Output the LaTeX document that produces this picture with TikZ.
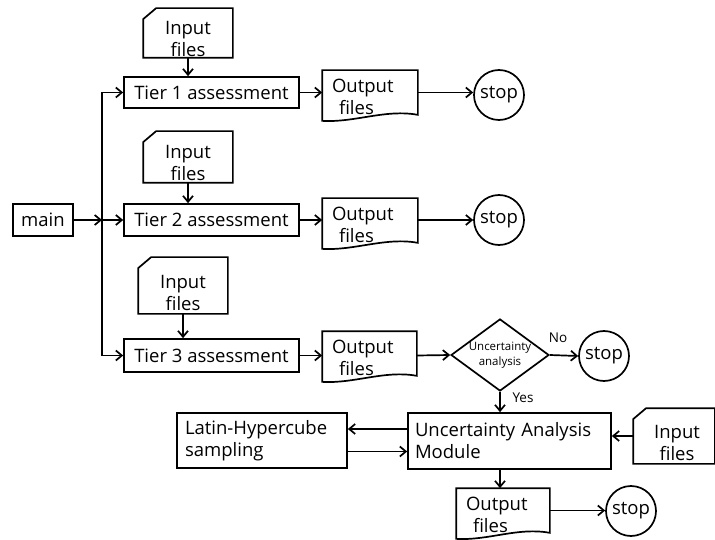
\documentclass[tikz,border=0pt]{standalone}
\usepackage{fontspec}
\setmainfont{Open Sans}
\usetikzlibrary{arrows.meta,shapes.geometric,calc}
\begin{document}
\begin{tikzpicture}[x=1pt,y=-1pt,
  font=\fontsize{18.5}{22}\selectfont,
  line width=1.7pt,
  arr/.style={-{Straight Barb[length=6pt,width=10pt]}},
  boxn/.style={draw,rectangle,inner sep=0pt},
  ghost/.style={rectangle,inner sep=0pt},
  txt/.style={inner sep=0pt,align=center},
  stopn/.style={draw,circle,minimum size=50pt,inner sep=0pt},
  lbl/.style={inner sep=0pt,font=\fontsize{13.5}{16}\selectfont}]
\useasboundingbox (0,0) rectangle (715,540);

% main and tiers
\node[boxn,minimum width=60pt,minimum height=32pt] (main) at (43,220) {main};
\node[boxn,minimum width=175pt,minimum height=31pt] (t1) at (211.5,92.5) {Tier 1 assessment};
\node[boxn,minimum width=175pt,minimum height=32pt] (t2) at (211.5,220) {Tier 2 assessment};
\node[boxn,minimum width=175pt,minimum height=33pt] (t3) at (211.5,355.5) {Tier 3 assessment};
\coordinate (j) at (102,220);

% input files
\node[ghost,minimum width=88pt,minimum height=48pt] (in1) at (188,33) {};
\node[ghost,minimum width=88pt,minimum height=50pt] (in2) at (188,157) {};
\node[ghost,minimum width=88pt,minimum height=55pt] (in3) at (183,285.5) {};
\node[ghost,minimum width=80pt,minimum height=54pt] (in4) at (674,436) {};
\foreach \n in {in1,in2,in3,in4}{
  \draw (\n.north east) -- (\n.south east) -- (\n.south west) -- ($(\n.north west)+(0,11)$) -- ($(\n.north west)+(13,0)$) -- cycle;
}
\node[txt] (in1t) at ($(in1)+(0,6)$) {Input\\files};
\node[txt] (in2t) at ($(in2)+(0,6)$) {Input\\files};
\node[txt] (in3t) at ($(in3)+(0,7)$) {Input\\files};
\node[txt] (in4t) at ($(in4)+(3,7)$) {Input\\files};

% output files
\node[ghost,minimum width=94pt,minimum height=43pt] (out1) at (370,92.5) {};
\node[ghost,minimum width=94pt,minimum height=43pt] (out2) at (370,220.5) {};
\node[ghost,minimum width=93pt,minimum height=43pt] (out3) at (369.5,353.5) {};
\node[ghost,minimum width=92pt,minimum height=43pt] (out4) at (503,510.5) {};
\foreach \n in {out1,out2,out3,out4}{
  \draw (\n.north west) -- (\n.north east) -- (\n.south east) .. controls ($(\n.south east)+(-32,-6)$) and ($(\n.south west)+(32,8)$) .. ($(\n.south west)+(0,6)$) -- cycle;
}
\foreach \n in {out1,out2,out3,out4}{
  \node[txt,align=left,anchor=west] (\n t) at ($(\n.west)+(9,4)$) {Output\\\rule{7pt}{0pt}files};
}

% stops
\node[stopn] (s1) at (499,95) {stop};
\node[stopn] (s2) at (499,220) {stop};
\node[stopn] (s3) at (604,356) {stop};
\node[stopn] (s4) at (631,511) {stop};

% decision
\node[draw,diamond,minimum width=91pt,minimum height=67pt,inner sep=0pt,aspect=1.36,
      align=center,font=\fontsize{11.5}{15}\selectfont] (dia) at (500,355) {Uncertainty\\analysis};

% UAM and LHS
\node[boxn,minimum width=203pt,minimum height=56pt,align=left,text width=189pt] (uam) at (509.5,441) {Uncertainty Analysis\\Module};
\node[boxn,minimum width=170pt,minimum height=55pt,align=left,text width=154pt] (lhs) at (262,440.5) {Latin-Hypercube\\sampling};

% connectors
\draw[arr] (main) -- (j);
\draw[arr] (j) -- (t2);
\draw[arr] (j) |- (t1);
\draw[arr] (j) |- (t3);
\draw[arr] (in1.south) -- (t1.north -| in1.south);
\draw[arr] (in2.south) -- (t2.north -| in2.south);
\draw[arr] (in3.south) -- (t3.north -| in3.south);
\draw[arr] (t1.east) -- (t1.east -| out1.west);
\draw[arr] (t2.east) -- (t2.east -| out2.west);
\draw[arr] (t3.east) -- (t3.east -| out3.west);
\draw[arr] (out1.east |- t1.east) -- (s1.west |- t1.east);
\draw[arr] (out2.east |- t2.east) -- (s2.west |- t2.east);
\draw[arr] (out3.east |- t3.east) -- (dia.west);
\draw[arr] (dia.east) -- (s3.west);
\draw[arr] (dia.south) -- (dia.south |- uam.north);
\draw[arr] (in4.west) -- (in4.west -| uam.east);
\draw[arr] ([yshift=12pt]uam.west) -- ([yshift=12pt]uam.west -| lhs.east);
\draw[arr] ([yshift=-11pt]lhs.east) -- ([yshift=-11pt]lhs.east -| uam.west);
\draw[arr] (uam.south -| dia.south) -- (out4.north -| dia.south);
\draw[arr] (out4.east) -- (s4.west |- out4.east);

% labels
\node[lbl] (no) at (558,338) {No};
\node[lbl] (yes) at (523,398) {Yes};
\end{tikzpicture}
\end{document}
